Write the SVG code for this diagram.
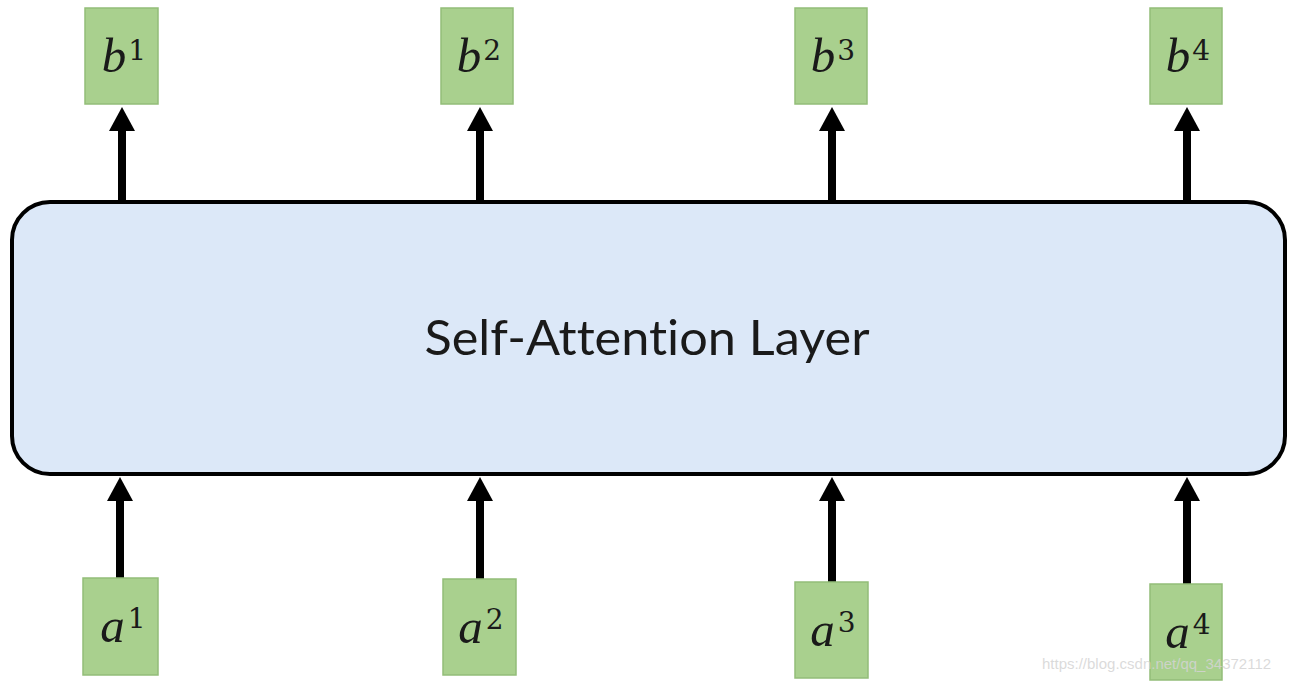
<svg xmlns="http://www.w3.org/2000/svg" width="1296" height="683" viewBox="0 0 1296 683">
  <style>
    .tok { fill: #a9d08e; stroke: #93bd78; stroke-width: 1.5; }
    .sym { font-family: "Liberation Serif", "DejaVu Serif", serif; font-size: 49px; fill: #1a1a1a; }
    .it { font-style: italic; }
    .sup { font-family: "DejaVu Serif", "Liberation Serif", serif; font-size: 28px; font-style: normal; }
    .conn { stroke: #000; stroke-width: 8; fill: none; }
    .head { fill: #000; }
    .layer { fill: #dce8f8; stroke: #000; stroke-width: 4; }
    .label { font-family: "Lato", "Open Sans", "Liberation Sans", sans-serif; font-size: 48px; fill: #1a1a1a; font-variant-ligatures: none; }
    .wm { font-family: "Liberation Sans", Arial, sans-serif; font-size: 15px; fill: #d4d4d4; fill-opacity: 0.85; }
  </style>
  <rect width="1296" height="683" fill="#fff"/>

  <g id="layer">
    <rect class="layer" x="12" y="202" width="1273" height="272" rx="38" ry="38"/>
    <text class="label" x="647" y="355" text-anchor="middle" textLength="445" lengthAdjust="spacingAndGlyphs">Self-Attention Layer</text>
  </g>

  <g id="connectors">
    <path class="conn" d="M122,200 V128"/>
    <path class="head" d="M109,131 L122,107 L135,131 Z"/>
    <path class="conn" d="M480,200 V128"/>
    <path class="head" d="M467,131 L480,107 L493,131 Z"/>
    <path class="conn" d="M832,200 V128"/>
    <path class="head" d="M819,131 L832,107 L845,131 Z"/>
    <path class="conn" d="M1187,200 V128"/>
    <path class="head" d="M1174,131 L1187,107 L1200,131 Z"/>

    <path class="conn" d="M120,579 V498"/>
    <path class="head" d="M107,501 L120,477 L133,501 Z"/>
    <path class="conn" d="M480,580 V498"/>
    <path class="head" d="M467,501 L480,477 L493,501 Z"/>
    <path class="conn" d="M832,583 V498"/>
    <path class="head" d="M819,501 L832,477 L845,501 Z"/>
    <path class="conn" d="M1187,585 V498"/>
    <path class="head" d="M1174,501 L1187,477 L1200,501 Z"/>
  </g>

  <g id="b1">
    <rect class="tok" x="85" y="8" width="73" height="96"/>
    <text class="sym" x="124" y="72" text-anchor="middle"><tspan class="it">b</tspan><tspan class="sup" dx="2" dy="-12">1</tspan></text>
  </g>
  <g id="b2">
    <rect class="tok" x="441" y="8" width="72" height="96"/>
    <text class="sym" x="479" y="72" text-anchor="middle"><tspan class="it">b</tspan><tspan class="sup" dx="2" dy="-12">2</tspan></text>
  </g>
  <g id="b3">
    <rect class="tok" x="795" y="8" width="72" height="96"/>
    <text class="sym" x="833" y="72" text-anchor="middle"><tspan class="it">b</tspan><tspan class="sup" dx="2" dy="-12">3</tspan></text>
  </g>
  <g id="b4">
    <rect class="tok" x="1150" y="8" width="72" height="96"/>
    <text class="sym" x="1188" y="72" text-anchor="middle"><tspan class="it">b</tspan><tspan class="sup" dx="2" dy="-12">4</tspan></text>
  </g>

  <g id="a1">
    <rect class="tok" x="83" y="578" width="75" height="97"/>
    <text class="sym" x="123" y="642" text-anchor="middle"><tspan class="it">a</tspan><tspan class="sup" dx="3" dy="-14">1</tspan></text>
  </g>
  <g id="a2">
    <rect class="tok" x="443" y="579" width="73" height="96"/>
    <text class="sym" x="481" y="643" text-anchor="middle"><tspan class="it">a</tspan><tspan class="sup" dx="3" dy="-14">2</tspan></text>
  </g>
  <g id="a3">
    <rect class="tok" x="795" y="582" width="73" height="96"/>
    <text class="sym" x="833" y="646" text-anchor="middle"><tspan class="it">a</tspan><tspan class="sup" dx="3" dy="-14">3</tspan></text>
  </g>
  <g id="a4">
    <rect class="tok" x="1150" y="584" width="72" height="96"/>
    <text class="sym" x="1188" y="648" text-anchor="middle"><tspan class="it">a</tspan><tspan class="sup" dx="3" dy="-14">4</tspan></text>
  </g>

  <text class="wm" x="1042" y="669">https://blog.csdn.net/qq_34372112</text>
</svg>
